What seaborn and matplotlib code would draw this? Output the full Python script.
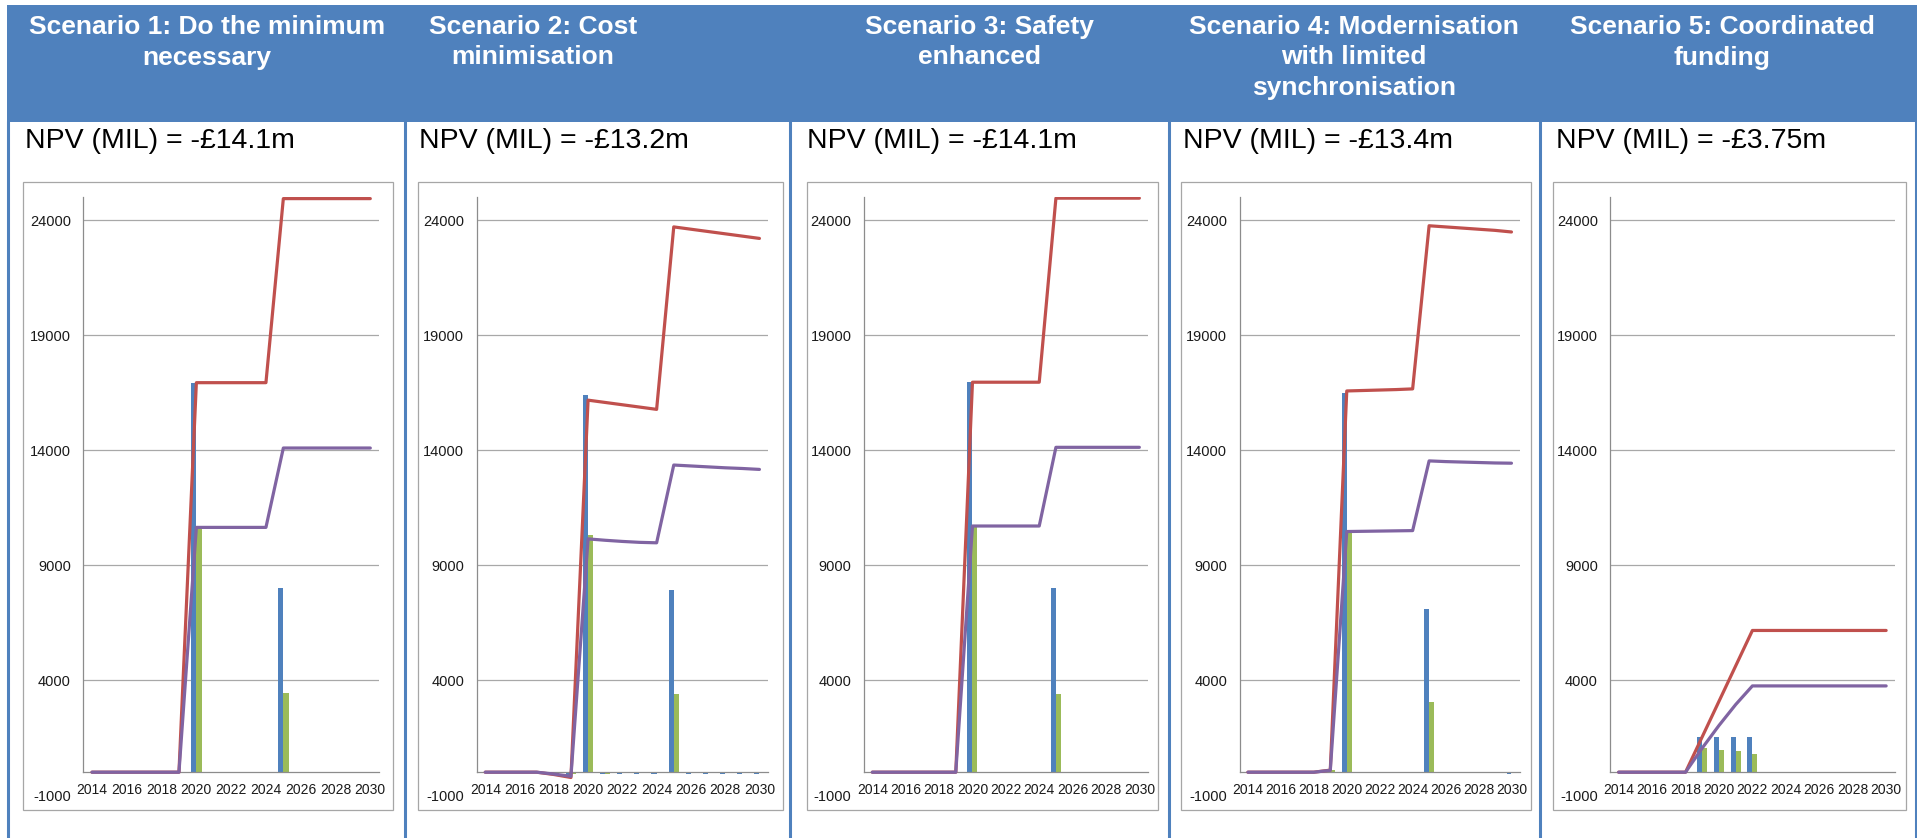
import numpy as np
import pandas as pd
import matplotlib
matplotlib.use("Agg")
import matplotlib.pyplot as plt
import seaborn as sns
from matplotlib.patches import Rectangle
from matplotlib.lines import Line2D

# ---------------- data ----------------
years = list(range(2014, 2031))

titles = [
    ["Scenario 1: Do the minimum", "necessary"],
    ["Scenario 2: Cost", "minimisation"],
    ["Scenario 3: Safety", "enhanced"],
    ["Scenario 4: Modernisation", "with limited", "synchronisation"],
    ["Scenario 5: Coordinated", "funding"],
]
npv_labels = [
    "NPV (MIL) = -£14.1m",
    "NPV (MIL) = -£13.2m",
    "NPV (MIL) = -£14.1m",
    "NPV (MIL) = -£13.4m",
    "NPV (MIL) = -£3.75m",
]

# annual cost (blue bars)
s1_cost = [0, 0, 0, 0, 0, 0, 16930, 0, 0, 0, 0, 8000, 0, 0, 0, 0, 0]
s2_cost = [0, 0, 0, 0, -100, -130, 16400, -100, -100, -100, -100, 7930, -100, -100, -100, -100, -100]
s3_cost = [0, 0, 0, 0, 0, 0, 16950, 0, 0, 0, 0, 8000, 0, 0, 0, 0, 0]
s4_cost = [0, 0, 0, 0, 0, 90, 16480, 25, 25, 25, 25, 7090, -50, -50, -50, -50, -70]
s5_cost = [0, 0, 0, 0, 0, 1540, 1540, 1540, 1540, 0, 0, 0, 0, 0, 0, 0, 0]

# annual discounted cost (green bars)
s1_disc = [0, 0, 0, 0, 0, 0, 10640, 0, 0, 0, 0, 3450, 0, 0, 0, 0, 0]
s2_disc = [0, 0, 0, 0, -80, -100, 10320, -60, -55, -50, -45, 3380, -45, -40, -40, -35, -35]
s3_disc = [0, 0, 0, 0, 0, 0, 10700, 0, 0, 0, 0, 3420, 0, 0, 0, 0, 0]
s4_disc = [0, 0, 0, 0, 0, 80, 10380, 15, 15, 15, 15, 3030, -30, -25, -25, -20, -20]
s5_disc = [0, 0, 0, 0, 0, 1050, 980, 910, 810, 0, 0, 0, 0, 0, 0, 0, 0]

# cumulative cost (red line)
s1_cum = [0, 0, 0, 0, 0, 0, 16930, 16930, 16930, 16930, 16930, 24930, 24930, 24930, 24930, 24930, 24930]
s2_cum = [0, 0, 0, 0, -100, -230, 16170, 16070, 15970, 15870, 15770, 23700, 23600, 23500, 23400, 23300, 23200]
s3_cum = [0, 0, 0, 0, 0, 0, 16950, 16950, 16950, 16950, 16950, 24950, 24950, 24950, 24950, 24950, 24950]
s4_cum = [0, 0, 0, 0, 0, 90, 16570, 16590, 16610, 16630, 16660, 23750, 23700, 23650, 23600, 23550, 23480]
s5_cum = [0, 0, 0, 0, 0, 1540, 3080, 4620, 6160, 6160, 6160, 6160, 6160, 6160, 6160, 6160, 6160]

# cumulative discounted cost / NPV (purple line)
s1_npv = [0, 0, 0, 0, 0, 0, 10640, 10640, 10640, 10640, 10640, 14090, 14090, 14090, 14090, 14090, 14090]
s2_npv = [0, 0, 0, 0, -80, -180, 10140, 10080, 10030, 9990, 9970, 13350, 13310, 13270, 13230, 13200, 13160]
s3_npv = [0, 0, 0, 0, 0, 0, 10700, 10700, 10700, 10700, 10700, 14120, 14120, 14120, 14120, 14120, 14120]
s4_npv = [0, 0, 0, 0, 0, 80, 10460, 10470, 10480, 10490, 10500, 13530, 13500, 13480, 13460, 13440, 13430]
s5_npv = [0, 0, 0, 0, 0, 1050, 2030, 2940, 3750, 3750, 3750, 3750, 3750, 3750, 3750, 3750, 3750]

costs = [s1_cost, s2_cost, s3_cost, s4_cost, s5_cost]
discs = [s1_disc, s2_disc, s3_disc, s4_disc, s5_disc]
cums = [s1_cum, s2_cum, s3_cum, s4_cum, s5_cum]
npvs = [s1_npv, s2_npv, s3_npv, s4_npv, s5_npv]

y_ticks = [-1000, 4000, 9000, 14000, 19000, 24000]
grid_levels = [4000, 9000, 14000, 19000, 24000]

# ---------------- style ----------------
BLUE = "#4F81BD"
GREEN = "#9BBB59"
RED = "#C0504D"
PURPLE = "#8064A2"
HEAD = "#4F81BD"
AXC = "#8C8C8C"
GRIDC = "#A8A8A8"
BOXC = "#A6A6A6"

sns.set_style("white")
plt.rcParams["font.family"] = ["Liberation Sans", "DejaVu Sans"]

W, H = 1917, 838
fig = plt.figure(figsize=(W / 100, H / 100), dpi=100)
fig.patch.set_facecolor("white")


def fx(px):
    return px / W


def fy(py):
    return 1 - py / H


# header band
fig.add_artist(Rectangle((fx(7), fy(122)), (W - 7) / W, (122 - 5) / H,
                         transform=fig.transFigure, facecolor=HEAD,
                         edgecolor="none", zorder=0))

# panel separators
for xs in [8.3, 405, 790, 1168.5, 1539.7, 1915.5]:
    fig.add_artist(Line2D([fx(xs), fx(xs)], [fy(121), fy(838)],
                          transform=fig.transFigure, color=HEAD, lw=2.2,
                          zorder=1))

# chart area boxes
box_l = [23, 418, 806.7, 1181, 1553]
box_r = [393, 783, 1158, 1530.7, 1905.7]
for l, r in zip(box_l, box_r):
    fig.add_artist(Rectangle((fx(l), fy(810)), (r - l) / W, (810 - 182) / H,
                             transform=fig.transFigure, fill=False,
                             edgecolor=BOXC, lw=0.9, zorder=1))

# header titles
title_cx = [206.7, 533, 979, 1354, 1722]
baselines = [34, 64.5, 95]
for cx, lines in zip(title_cx, titles):
    for j, line in enumerate(lines):
        fig.text(fx(cx), fy(baselines[j]), line, ha="center", va="baseline",
                 color="white", fontsize=19, fontweight="bold")

# NPV labels
npv_x = [25, 419, 807, 1183, 1556]
for x0, lab in zip(npv_x, npv_labels):
    fig.text(fx(x0), fy(148.5), lab, ha="left", va="baseline",
             color="black", fontsize=20.5)

# axes
ax_l = [83.3, 476.7, 864, 1239.7, 1610.3]
ax_r = [379, 768, 1147.7, 1519.7, 1894.5]
ax_top, ax_bot = 197.0, 795.2
idx = np.arange(len(years))

for i in range(5):
    ax = fig.add_axes([fx(ax_l[i]), fy(ax_bot), (ax_r[i] - ax_l[i]) / W,
                       (ax_bot - ax_top) / H])
    ax.patch.set_alpha(0)
    df = pd.DataFrame({
        "year": years * 2,
        "value": costs[i] + discs[i],
        "series": ["Cost"] * len(years) + ["Discounted cost"] * len(years),
    })
    for g in grid_levels:
        ax.axhline(g, color=GRIDC, lw=0.9, zorder=0.5)
    sns.barplot(data=df, x="year", y="value", hue="series", order=years,
                hue_order=["Cost", "Discounted cost"],
                palette=[BLUE, GREEN], width=0.6, gap=0, saturation=1,
                errorbar=None, legend=False, ax=ax, zorder=2,
                linewidth=0, edgecolor="none")
    sns.lineplot(x=idx, y=cums[i], color=RED, lw=2.3, ax=ax, zorder=3)
    sns.lineplot(x=idx, y=npvs[i], color=PURPLE, lw=2.3, ax=ax, zorder=4)

    ax.set_xlim(-0.5, len(years) - 0.5)
    ax.set_ylim(-1000, 25000)
    ax.set_xlabel("")
    ax.set_ylabel("")

    ax.set_xticks(idx[::2])
    ax.set_xticklabels([str(y) for y in years[::2]], fontsize=10)
    ax.set_xticks(np.arange(-0.5, len(years), 1.0), minor=True)
    ax.tick_params(axis="x", which="major", length=0, pad=7.5,
                   labelcolor="#1a1a1a")
    ax.tick_params(axis="x", which="minor", length=3, width=0.8,
                   color=AXC, direction="out")

    ax.set_yticks(y_ticks)
    ax.set_yticklabels([str(v) for v in y_ticks], fontsize=10.5)
    ax.tick_params(axis="y", which="major", length=3, width=0.8, color=AXC,
                   direction="out", pad=6, labelcolor="#1a1a1a")
    ax.yaxis.get_major_ticks()[0].tick1line.set_visible(False)

    ax.spines["bottom"].set_position(("data", 0))
    ax.spines["bottom"].set_color(AXC)
    ax.spines["bottom"].set_linewidth(0.9)
    ax.spines["left"].set_bounds(0, 25000)
    ax.spines["left"].set_color(AXC)
    ax.spines["left"].set_linewidth(0.9)
    ax.spines["top"].set_visible(False)
    ax.spines["right"].set_visible(False)
    ax.grid(False)

fig.savefig("out.png", dpi=100)
